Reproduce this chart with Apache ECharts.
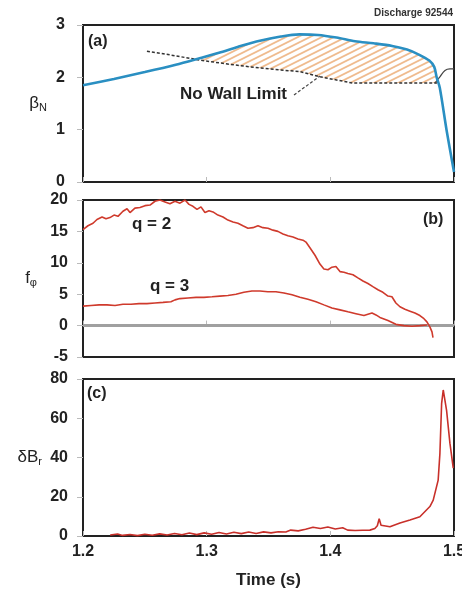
<!DOCTYPE html>
<html>
<head>
<meta charset="utf-8">
<script src="https://cdn.jsdelivr.net/npm/echarts@6/dist/echarts.min.js"></script>
<style>
  html, body { margin: 0; padding: 0; background: #fff; }
  #chart { width: 462px; height: 597px; }
</style>
</head>
<body>
<div id="chart"></div>
<script>
// Discharge 92544: normalized beta, mode rotation and radial field vs time

// (a) beta_N measured, [time s, value]
const betaN = [
  [1.200, 1.85], [1.225, 1.97], [1.250, 2.10], [1.275, 2.24], [1.295, 2.37],
  [1.310, 2.47], [1.325, 2.58], [1.343, 2.70], [1.360, 2.78], [1.375, 2.82],
  [1.390, 2.81], [1.405, 2.76], [1.420, 2.69], [1.435, 2.65], [1.450, 2.60],
  [1.462, 2.53], [1.472, 2.43], [1.480, 2.32], [1.484, 2.20], [1.486, 2.00],
  [1.4885, 1.80], [1.494, 0.99], [1.500, 0.19]
];
// (a) no-wall stability limit
const noWallLimit = [
  [1.2517, 2.50], [1.2700, 2.43], [1.2946, 2.33], [1.3150, 2.26], [1.3350, 2.20],
  [1.3550, 2.15], [1.3754, 2.11], [1.3916, 2.01], [1.4050, 1.95], [1.4183, 1.89],
  [1.4400, 1.89], [1.4600, 1.89], [1.4830, 1.89], [1.4862, 1.89]
];
// (a) limit after the collapse
const noWallTail = [
  [1.4846, 1.89], [1.4886, 2.01], [1.4927, 2.13], [1.4967, 2.16], [1.5000, 2.16]
];

// (b) rotation frequency, q = 2 surface
const fq2 = [
  [1.2000, 15.3], [1.2040, 15.9], [1.2081, 16.3], [1.2113, 16.9], [1.2154, 17.3],
  [1.2186, 17.0], [1.2218, 17.2], [1.2251, 17.6], [1.2283, 17.4], [1.2323, 18.2],
  [1.2356, 18.6], [1.2380, 18.0], [1.2420, 18.7], [1.2461, 18.8], [1.2501, 19.1],
  [1.2542, 19.2], [1.2582, 19.8], [1.2622, 20.0], [1.2663, 19.7], [1.2703, 19.4],
  [1.2744, 19.8], [1.2784, 19.5], [1.2825, 20.0], [1.2857, 19.3], [1.2889, 19.0],
  [1.2922, 18.5], [1.2954, 18.9], [1.2986, 18.0], [1.3019, 18.3], [1.3051, 18.1],
  [1.3091, 17.6], [1.3132, 17.3], [1.3172, 16.8], [1.3213, 16.5], [1.3253, 16.3],
  [1.3293, 15.9], [1.3334, 15.5], [1.3374, 15.6], [1.3415, 15.9], [1.3455, 15.6],
  [1.3496, 15.5], [1.3536, 15.2], [1.3576, 15.0], [1.3617, 14.6], [1.3657, 14.3],
  [1.3698, 14.1], [1.3738, 13.8], [1.3779, 13.6], [1.3803, 13.3], [1.3835, 12.4],
  [1.3876, 11.2], [1.3916, 9.8], [1.3948, 9.0], [1.3981, 8.9], [1.4013, 9.3],
  [1.4045, 9.4], [1.4078, 8.6], [1.4110, 8.5], [1.4142, 8.3], [1.4183, 8.1],
  [1.4223, 7.6], [1.4264, 7.1], [1.4304, 6.7], [1.4344, 6.2], [1.4385, 5.7],
  [1.4425, 5.3], [1.4466, 4.7], [1.4498, 4.6], [1.4530, 3.6], [1.4563, 3.0],
  [1.4603, 2.6], [1.4644, 2.3], [1.4684, 2.0], [1.4724, 1.6], [1.4757, 1.1],
  [1.4781, 0.6], [1.4805, -0.2], [1.4822, -1.0], [1.4830, -1.9]
];
// (b) rotation frequency, q = 3 surface
const fq3 = [
  [1.2000, 3.1], [1.2065, 3.2], [1.2130, 3.3], [1.2194, 3.3], [1.2259, 3.2],
  [1.2323, 3.4], [1.2388, 3.4], [1.2453, 3.5], [1.2517, 3.5], [1.2582, 3.6],
  [1.2647, 3.7], [1.2711, 3.8], [1.2744, 4.1], [1.2784, 4.3], [1.2849, 4.4],
  [1.2914, 4.5], [1.2978, 4.5], [1.3043, 4.6], [1.3107, 4.7], [1.3172, 4.8],
  [1.3237, 5.0], [1.3301, 5.3], [1.3366, 5.5], [1.3431, 5.5], [1.3495, 5.4],
  [1.3560, 5.4], [1.3625, 5.2], [1.3690, 4.9], [1.3754, 4.5], [1.3819, 4.2],
  [1.3884, 3.8], [1.3948, 3.3], [1.4013, 2.8], [1.4078, 2.5], [1.4142, 2.2],
  [1.4207, 1.9], [1.4272, 1.6], [1.4304, 1.8], [1.4337, 2.0], [1.4369, 1.7],
  [1.4401, 1.3], [1.4466, 0.8], [1.4530, 0.2], [1.4595, 0.0], [1.4660, -0.1],
  [1.4724, 0.0], [1.4781, 0.1]
];

// (c) radial field perturbation
const dBr = [
  [1.222, 0.5], [1.228, 1.0], [1.232, 0.3], [1.238, 0.8], [1.244, 0.2],
  [1.250, 0.9], [1.256, 0.4], [1.262, 1.1], [1.268, 0.5], [1.274, 1.3],
  [1.280, 0.6], [1.286, 1.5], [1.292, 0.7], [1.298, 1.6], [1.304, 0.9],
  [1.310, 1.8], [1.316, 1.0], [1.322, 1.9], [1.328, 1.2], [1.334, 2.0],
  [1.340, 1.3], [1.346, 2.1], [1.352, 1.6], [1.358, 2.2], [1.364, 2.0],
  [1.368, 3.0], [1.374, 2.6], [1.380, 3.4], [1.386, 4.5], [1.392, 3.8],
  [1.398, 4.6], [1.404, 3.6], [1.410, 4.2], [1.414, 3.0], [1.420, 2.8],
  [1.426, 2.9], [1.432, 3.0], [1.436, 3.8], [1.438, 5.2], [1.4395, 8.8],
  [1.441, 5.5], [1.4482, 4.7], [1.4563, 6.6], [1.4644, 8.2], [1.4724, 9.8],
  [1.4805, 15.0], [1.4832, 18.3], [1.4872, 28.5], [1.4886, 42.0], [1.4900, 67.6],
  [1.4913, 74.4], [1.4940, 64.0], [1.4967, 47.3], [1.4994, 34.6]
];

const timeTicks = ['1.2', '1.3', '1.4', '1.5'];

// shallow diagonal hatch tile for the region above the no-wall limit
function hatchPattern() {
  const c = document.createElement('canvas');
  c.width = 12; c.height = 6;
  const g = c.getContext('2d');
  g.strokeStyle = '#efbb8e';
  g.lineWidth = 1.8;
  g.beginPath();
  g.moveTo(0, 6); g.lineTo(12, 0);
  g.moveTo(-2, 1); g.lineTo(2, -1);
  g.moveTo(10, 7); g.lineTo(14, 5);
  g.stroke();
  return c;
}

const FONT = 'Liberation Sans, Arial, sans-serif';
const tickLabel = { fontFamily: FONT, fontWeight: 'bold', fontSize: 16, color: '#222' };

const grids = [
  { left: 83, right: 8, top: 25, height: 157 },
  { left: 83, right: 8, top: 200, height: 157 },
  { left: 83, right: 8, top: 379, height: 157 }
].map(g => Object.assign(g, {
  show: true, borderColor: '#222', borderWidth: 2, backgroundColor: '#fff',
  containLabel: false, outerBoundsMode: 'none'
}));

function xAxis(i) {
  return {
    type: 'value', gridIndex: i, min: 1.2, max: 1.5, interval: 0.1,
    axisLine: { show: false },
    axisTick: { show: true, inside: true, length: 5, lineStyle: { color: '#bbb' } },
    splitLine: { show: false },
    axisLabel: i === 2 ? Object.assign({
      margin: 8,
      formatter: v => timeTicks[Math.round((v - 1.2) * 10)] || ''
    }, tickLabel) : { show: false },
    name: i === 2 ? 'Time (s)' : '',
    nameLocation: 'middle', nameGap: 36,
    nameTextStyle: { fontFamily: FONT, fontWeight: 'bold', fontSize: 17, color: '#222' }
  };
}

function yAxis(i, min, max, interval, name, gap, margin) {
  return {
    type: 'value', gridIndex: i, min, max, interval,
    axisLine: { show: false },
    axisTick: { show: true, inside: false, length: 6, lineStyle: { color: '#bbb' } },
    splitLine: { show: false },
    axisLabel: Object.assign({ margin }, tickLabel),
    name, nameLocation: 'middle', nameRotate: 0, nameGap: gap,
    nameTextStyle: {
      fontFamily: FONT, fontSize: 17, color: '#222',
      rich: {
        m: { fontFamily: FONT, fontSize: 17, color: '#222' },
        s: { fontFamily: FONT, fontSize: 11, color: '#222', padding: [9, 0, 0, 0] }
      }
    }
  };
}

const chart = echarts.init(document.getElementById('chart'), null, { renderer: 'canvas' });

chart.setOption({
  animation: false,
  backgroundColor: '#fff',
  grid: grids,
  xAxis: [xAxis(0), xAxis(1), xAxis(2)],
  yAxis: [
    yAxis(0, 0, 3, 1, '{m|β}{s|N}', 36, 18),
    yAxis(1, -5, 20, 5, '{m|f}{s|φ}', 46, 15),
    yAxis(2, 0, 80, 20, '{m|δB}{s|r}', 41, 15)
  ],
  series: [
    {
      // hatched gap between beta_N and the no-wall limit
      type: 'custom', xAxisIndex: 0, yAxisIndex: 0, z: 1,
      data: [0],
      renderItem: (params, api) => {
        const t1 = noWallLimit[noWallLimit.length - 1][0];
        const upper = betaN.filter(p => p[0] >= 1.295 && p[0] <= t1);
        const lower = noWallLimit.filter(p => p[0] >= 1.2946).slice().reverse();
        const pts = upper.concat(lower).map(p => api.coord(p));
        return {
          type: 'polygon',
          shape: { points: pts },
          style: { fill: { image: hatchPattern(), repeat: 'repeat' }, stroke: null }
        };
      }
    },
    {
      type: 'line', xAxisIndex: 0, yAxisIndex: 0, data: noWallLimit, z: 3,
      showSymbol: false, smooth: false,
      lineStyle: { color: '#333', width: 1.5, type: [3, 2] }
    },
    {
      type: 'line', xAxisIndex: 0, yAxisIndex: 0, data: noWallTail, z: 3,
      showSymbol: false, smooth: 0.4,
      lineStyle: { color: '#444', width: 1.2 }
    },
    {
      type: 'line', xAxisIndex: 0, yAxisIndex: 0, data: betaN, z: 4,
      showSymbol: false, smooth: 0.3,
      lineStyle: { color: '#2a8fc2', width: 2.6 }
    },
    {
      type: 'line', xAxisIndex: 1, yAxisIndex: 1, data: fq2, z: 4,
      showSymbol: false,
      lineStyle: { color: '#cf3a2c', width: 1.6 },
      markLine: {
        silent: true, symbol: 'none', label: { show: false },
        lineStyle: { color: '#a0a0a0', width: 3, type: 'solid' },
        data: [{ yAxis: 0 }], z: 2
      }
    },
    {
      type: 'line', xAxisIndex: 1, yAxisIndex: 1, data: fq3, z: 4,
      showSymbol: false,
      lineStyle: { color: '#cf3a2c', width: 1.6 }
    },
    {
      type: 'line', xAxisIndex: 2, yAxisIndex: 2, data: dBr, z: 4,
      showSymbol: false,
      lineStyle: { color: '#c8302a', width: 1.6 }
    }
  ],
  graphic: [
    { type: 'text', right: 9, top: 8,
      style: { text: 'Discharge 92544', font: 'bold 10px ' + FONT, fill: '#333' } },
    { type: 'text', x: 88, y: 34,
      style: { text: '(a)', font: 'bold 16px ' + FONT, fill: '#222' } },
    { type: 'text', x: 423, y: 212,
      style: { text: '(b)', font: 'bold 16px ' + FONT, fill: '#222' } },
    { type: 'text', x: 87, y: 386,
      style: { text: '(c)', font: 'bold 16px ' + FONT, fill: '#222' } },
    { type: 'text', x: 180, y: 86,
      style: { text: 'No Wall Limit', font: 'bold 17px ' + FONT, fill: '#222' } },
    { type: 'line', shape: { x1: 294, y1: 95, x2: 320, y2: 76 },
      style: { stroke: '#444', lineWidth: 1.2, lineDash: [3, 2] } },
    { type: 'text', x: 132, y: 216,
      style: { text: 'q = 2', font: 'bold 17px ' + FONT, fill: '#222' } },
    { type: 'text', x: 150, y: 278,
      style: { text: 'q = 3', font: 'bold 17px ' + FONT, fill: '#222' } }
  ]
});
</script>
</body>
</html>
